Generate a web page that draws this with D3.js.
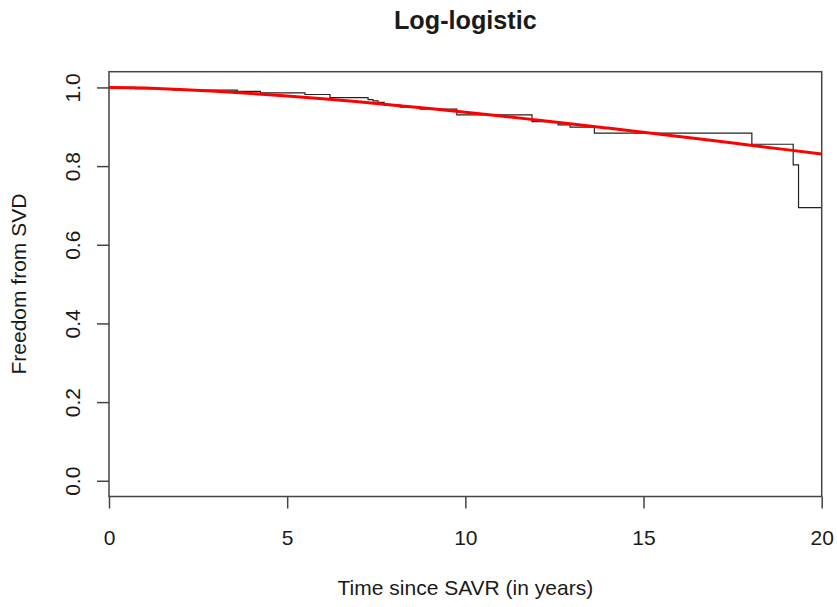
<!DOCTYPE html>
<html>
<head>
<meta charset="utf-8">
<script src="https://cdn.jsdelivr.net/npm/d3@7"></script>
<style>
  html, body { margin: 0; padding: 0; background: #fff; }
  text { font-family: "Liberation Sans", Arial, sans-serif; fill: #1a1a1a; }
</style>
</head>
<body>
<svg id="chart" width="837" height="607"></svg>
<script>
// Kaplan-Meier estimate: event times and survival after each drop
const kmTime = [0, 0.75, 1.8, 3.6, 4.25, 5.5, 6.2, 7.27, 7.41, 7.55, 7.72, 8.17, 8.73, 9.76, 11.87, 12.6, 12.94, 13.62, 18.04, 19.2, 19.35, 20];
const kmSurv = [1.0, 0.997, 0.993, 0.99, 0.986, 0.982, 0.974, 0.969, 0.966, 0.962, 0.955, 0.95, 0.9446, 0.93, 0.913, 0.905, 0.899, 0.884, 0.8555, 0.803, 0.6945, 0.6945];

// Fitted log-logistic survival curve, sampled yearly
const fitTime = [0, 1, 2, 3, 4, 5, 6, 7, 8, 9, 10, 11, 12, 13, 14, 15, 16, 17, 18, 19, 20];
const fitSurv = [1.0, 0.9983, 0.9949, 0.9903, 0.9847, 0.9783, 0.9712, 0.9634, 0.955, 0.9463, 0.937, 0.9273, 0.9173, 0.9071, 0.8966, 0.8859, 0.8751, 0.8642, 0.853, 0.8419, 0.831];

const xTicks = [0, 5, 10, 15, 20];
const yTicks = [0, 0.2, 0.4, 0.6, 0.8, 1.0];

const titleText = "Log-logistic";
const xTitle = "Time since SAVR (in years)";
const yTitle = "Freedom from SVD";

const svg = d3.select("#chart");
const plotL = 109, plotR = 821.7, plotT = 71.7, plotB = 496.5;

const x = d3.scaleLinear().domain([0, 20]).range([plotL, plotR]);
const y = d3.scaleLinear().domain([-0.04, 1.04]).range([plotB, plotT]);

// Axes
const xAxis = svg.append("g")
  .attr("transform", `translate(0,${plotB})`)
  .call(d3.axisBottom(x).tickValues(xTicks).tickSize(12).tickFormat(d3.format("d")));
xAxis.select(".domain").remove();
xAxis.selectAll("line").attr("stroke", "#444").attr("stroke-width", 1.5);
xAxis.selectAll("text")
  .attr("y", 48).attr("dy", null)
  .attr("font-size", 21).attr("fill", "#1a1a1a")
  .style("font-family", "'Liberation Sans', Arial, sans-serif");

const yAxis = svg.append("g")
  .attr("transform", `translate(${plotL},0)`)
  .call(d3.axisLeft(y).tickValues(yTicks).tickSize(12).tickFormat(d3.format(".1f")));
yAxis.select(".domain").remove();
yAxis.selectAll("line").attr("stroke", "#444").attr("stroke-width", 1.5);
yAxis.selectAll("text")
  .attr("transform", "rotate(-90)")
  .attr("x", 0).attr("y", -29.5).attr("dy", null)
  .attr("text-anchor", "middle")
  .attr("font-size", 21).attr("fill", "#1a1a1a")
  .style("font-family", "'Liberation Sans', Arial, sans-serif");

// Kaplan-Meier step line
const kmData = kmTime.map((t, i) => [t, kmSurv[i]]);
svg.append("path")
  .datum(kmData)
  .attr("fill", "none")
  .attr("stroke", "#222")
  .attr("stroke-width", 1.2)
  .attr("d", d3.line().x(d => x(d[0])).y(d => y(d[1])).curve(d3.curveStepAfter));

// Fitted curve
const fitData = fitTime.map((t, i) => [t, fitSurv[i]]);
svg.append("path")
  .datum(fitData)
  .attr("fill", "none")
  .attr("stroke", "#ff0000")
  .attr("stroke-width", 3)
  .attr("d", d3.line().x(d => x(d[0])).y(d => y(d[1])).curve(d3.curveMonotoneX));

// Plot frame
svg.append("rect")
  .attr("x", plotL).attr("y", plotT)
  .attr("width", plotR - plotL).attr("height", plotB - plotT)
  .attr("fill", "none").attr("stroke", "#444").attr("stroke-width", 1.5);

// Titles
svg.append("text")
  .attr("x", (plotL + plotR) / 2).attr("y", 29)
  .attr("text-anchor", "middle")
  .attr("font-size", 25.2).attr("font-weight", "bold")
  .text(titleText);

svg.append("text")
  .attr("x", (plotL + plotR) / 2).attr("y", 595)
  .attr("text-anchor", "middle")
  .attr("font-size", 21)
  .text(xTitle);

svg.append("text")
  .attr("transform", `translate(26,${(plotT + plotB) / 2}) rotate(-90)`)
  .attr("text-anchor", "middle")
  .attr("font-size", 21)
  .text(yTitle);
</script>
</body>
</html>
